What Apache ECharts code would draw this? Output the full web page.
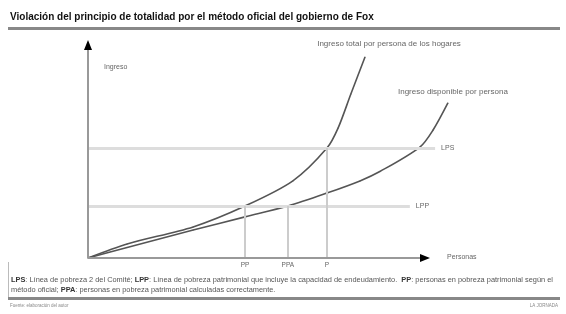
<!DOCTYPE html>
<html>
<head>
<meta charset="utf-8">
<script src="https://cdn.jsdelivr.net/npm/echarts@6/dist/echarts.min.js"></script>
<style>
  html, body { margin: 0; padding: 0; background: #fff; }
  #myChart { width: 566px; height: 314px; }
</style>
</head>
<body>
<div id="myChart"></div>
<script>
  // curvas de ingreso (x = personas, y = ingreso, unidades relativas 0-100)
  var ingresoTotal = [[0, 0], [11.6, 6.6], [31.2, 14.6], [46.6, 24.4], [60.8, 36.2], [70.9, 51.6], [74.2, 61], [78, 77], [82.2, 94.4]]
  var ingresoDisponible = [[0, 0], [11.6, 4.9], [31.2, 13.1], [46.6, 19.3], [59.3, 24.4], [70.9, 30.5], [80.7, 36.2], [86.6, 40.6], [98.5, 52.1], [102.4, 60.1], [106.8, 72.8]]
  var nombresCurvas = ['Ingreso total por persona de los hogares', 'Ingreso disponible por persona']
  // lineas de pobreza
  var lineasPobreza = ['LPS', 'LPP']
  var nivelesPobreza = [51.6, 24.4]
  var finLineas = [103, 95.5]
  // cortes en el eje de personas
  var cortesNombres = ['PP', 'PPA', 'P']
  var cortesX = [46.6, 59.3, 70.9]
  var cortesY = [24.4, 24.4, 51.6]

  var fuente = 'Liberation Sans, Arial, sans-serif'
  var gris = '#555'

  var myChart = echarts.init(document.getElementById('myChart'))

  var horizontales = lineasPobreza.map(function (n, i) {
    return [
      { coord: [0, nivelesPobreza[i]] },
      { coord: [finLineas[i], nivelesPobreza[i]], name: n }
    ]
  })
  var verticales = cortesNombres.map(function (n, i) {
    return [
      { coord: [cortesX[i], 0], name: n },
      { coord: [cortesX[i], cortesY[i]] }
    ]
  })

  function conEtiqueta(datos, nombre, offset, dist) {
    return datos.map(function (p, i) {
      if (i < datos.length - 1) return { value: p, label: { show: false } }
      return {
        value: p,
        label: {
          show: true, position: 'top', distance: dist, offset: offset,
          formatter: nombre, fontSize: 8, color: '#666', fontFamily: fuente
        }
      }
    })
  }

  var option = {
    backgroundColor: '#fff',
    animation: false,
    grid: { left: 88, right: 107.3, top: 45, bottom: 56 },
    xAxis: {
      type: 'value', min: 0, max: 110,
      axisLine: { show: false }, axisTick: { show: false }, axisLabel: { show: false }, splitLine: { show: false }
    },
    yAxis: {
      type: 'value', min: 0, max: 100,
      axisLine: { show: false }, axisTick: { show: false }, axisLabel: { show: false }, splitLine: { show: false }
    },
    series: [
      {
        name: 'guias', type: 'line', data: [], silent: true,
        markLine: {
          symbol: 'none', silent: true,
          lineStyle: { color: '#ddd', width: 3, type: 'solid' },
          label: { show: true, position: 'end', distance: 6, formatter: '{b}', fontSize: 7, color: '#666', fontFamily: fuente },
          data: horizontales
        }
      },
      {
        name: 'cortes', type: 'line', data: [], silent: true,
        markLine: {
          symbol: 'none', silent: true,
          lineStyle: { color: '#ccc', width: 2, type: 'solid' },
          label: { show: true, position: 'start', distance: 4, formatter: '{b}', fontSize: 6.5, color: '#666', fontFamily: fuente },
          data: verticales
        }
      },
      {
        name: 'ejes', type: 'line', data: [], silent: true,
        markLine: {
          symbol: 'none', silent: true,
          lineStyle: { color: '#999', width: 2, type: 'solid' },
          label: { show: false },
          data: [
            [{ coord: [0, 0] }, { coord: [100, 0] }],
            [{ coord: [0, 0] }, { coord: [0, 100] }]
          ]
        },
        markPoint: {
          silent: true, symbol: 'triangle', symbolSize: [8, 10],
          itemStyle: { color: '#000' }, label: { show: false },
          data: [
            { coord: [100, 0], symbolRotate: -90 },
            { coord: [0, 100], symbolRotate: 0 }
          ]
        }
      },
      {
        name: nombresCurvas[0], type: 'line', smooth: 0.3, clip: false,
        showSymbol: true, showAllSymbol: true, symbol: 'circle', symbolSize: 1,
        itemStyle: { color: gris },
        lineStyle: { color: gris, width: 1.6 },
        data: conEtiqueta(ingresoTotal, nombresCurvas[0], [24, 0], 9)
      },
      {
        name: nombresCurvas[1], type: 'line', smooth: 0.3, clip: false,
        showSymbol: true, showAllSymbol: true, symbol: 'circle', symbolSize: 1,
        itemStyle: { color: gris },
        lineStyle: { color: gris, width: 1.6 },
        data: conEtiqueta(ingresoDisponible, nombresCurvas[1], [5, 0], 7)
      }
    ],
    graphic: [
      { type: 'text', left: 10, top: 12, style: { text: 'Violación del principio de totalidad por el método oficial del gobierno de Fox', fontSize: 10, fontWeight: 'bold', fill: '#111', fontFamily: fuente } },
      { type: 'rect', shape: { x: 8, y: 27, width: 552, height: 3 }, style: { fill: '#888' } },
      { type: 'text', left: 104, top: 64, style: { text: 'Ingreso', fontSize: 7, fill: '#666', fontFamily: fuente } },
      { type: 'text', left: 447, top: 254, style: { text: 'Personas', fontSize: 7, fill: '#666', fontFamily: fuente } },
      { type: 'rect', shape: { x: 8, y: 262, width: 1, height: 38 }, style: { fill: '#bbb' } },
      { type: 'text', left: 11, top: 276, style: {
        rich: { b: { fontWeight: 'bold', fontSize: 7.4, fill: '#333', fontFamily: fuente }, n: { fontSize: 7.4, fill: '#555', fontFamily: fuente } },
        text: '{b|LPS}{n|: Línea de pobreza 2 del Comité; }{b|LPP}{n|: Línea de pobreza patrimonial que incluye la capacidad de endeudamiento.  }{b|PP}{n|: personas en pobreza patrimonial según el}'
      } },
      { type: 'text', left: 11, top: 286, style: {
        rich: { b: { fontWeight: 'bold', fontSize: 7.4, fill: '#333', fontFamily: fuente }, n: { fontSize: 7.4, fill: '#555', fontFamily: fuente } },
        text: '{n|método oficial; }{b|PPA}{n|: personas en pobreza patrimonial calculadas correctamente.}'
      } },
      { type: 'rect', shape: { x: 8, y: 297, width: 552, height: 3 }, style: { fill: '#888' } },
      { type: 'text', left: 10, top: 303, style: { text: 'Fuente: elaboración del autor', fontSize: 4.5, fill: '#888', fontFamily: fuente } },
      { type: 'text', right: 8, top: 303, style: { text: 'LA JORNADA', fontSize: 4.5, fill: '#888', fontFamily: fuente } }
    ]
  }

  myChart.setOption(option)
</script>
</body>
</html>
